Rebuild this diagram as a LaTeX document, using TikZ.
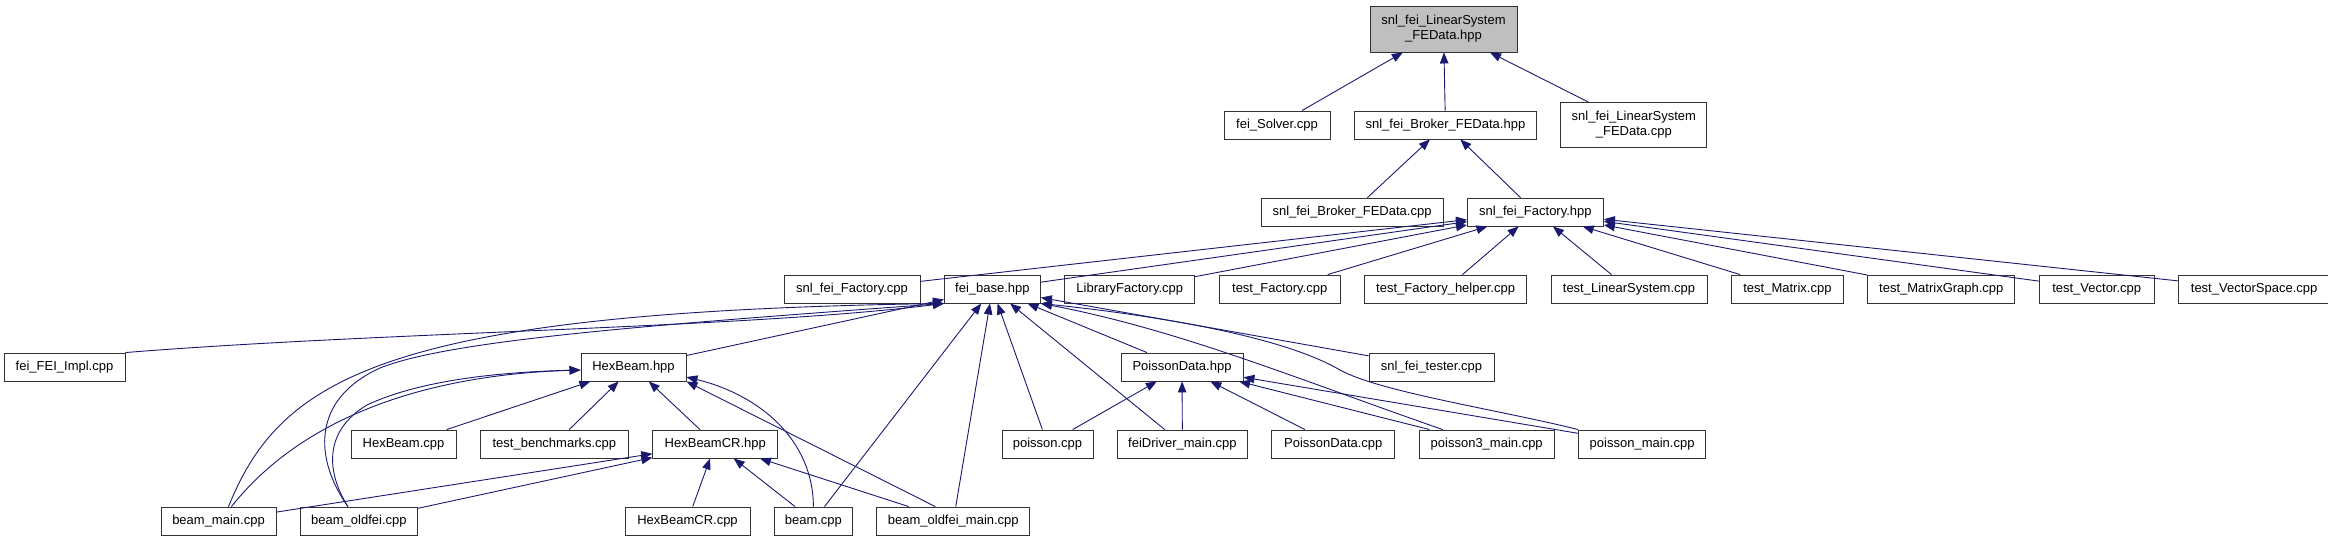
\documentclass[tikz,border=0pt]{standalone}
\usepackage{fontspec}
\setmainfont{Liberation Sans}
\usetikzlibrary{arrows.meta,positioning}
\definecolor{edgeblue}{HTML}{191970}
\definecolor{focusgray}{HTML}{BFBFBF}

\begin{document}
\begin{tikzpicture}[x=1pt,y=-1pt,node distance=23.5pt,
    filebox/.style={draw=black!80,fill=white,line width=0.9pt,minimum width=#1,
      minimum height=28pt,inner sep=0pt,align=center,
      font=\fontsize{13}{15}\selectfont},
    focusbox/.style={filebox=#1,fill=focusgray,minimum height=46pt},
    dep/.style={<-,color=edgeblue,line width=0.9pt},
    >={Triangle[length=11pt,width=8.5pt]}]
   \useasboundingbox (0,0) rectangle (2328,541);
   \node[focusbox=147pt] (lsh) at (1443.5,29) {snl\_fei\_LinearSystem\\\_FEData.hpp};
   \node[filebox=106pt] (solver) at (1277,125) {fei\_Solver.cpp};
   \node[filebox=182pt] (brokerh) [right=of solver] {snl\_fei\_Broker\_FEData.hpp};
   \node[filebox=146pt,minimum height=45pt] (lscpp) [right=of brokerh] {snl\_fei\_LinearSystem\\\_FEData.cpp};
   \node[filebox=182pt] (brokercpp) at (1352,212) {snl\_fei\_Broker\_FEData.cpp};
   \node[filebox=136pt] (factoryh) [right=of brokercpp] {snl\_fei\_Factory.hpp};
   \node[filebox=136pt] (factorycpp) at (852,289) {snl\_fei\_Factory.cpp};
   \node[filebox=96pt] (feibase) [right=of factorycpp] {fei\_base.hpp};
   \node[filebox=130pt] (libfactory) [right=of feibase] {LibraryFactory.cpp};
   \node[filebox=121pt] (testfactory) [right=of libfactory] {test\_Factory.cpp};
   \node[filebox=162pt] (testhelper) [right=of testfactory] {test\_Factory\_helper.cpp};
   \node[filebox=156pt] (testls) [right=of testhelper] {test\_LinearSystem.cpp};
   \node[filebox=112pt] (testmatrix) [right=of testls] {test\_Matrix.cpp};
   \node[filebox=147pt] (testgraph) [right=of testmatrix] {test\_MatrixGraph.cpp};
   \node[filebox=115pt] (testvector) [right=of testgraph] {test\_Vector.cpp};
   \node[filebox=151pt] (testspace) [right=of testvector] {test\_VectorSpace.cpp};
   \node[filebox=121pt] (feiimpl) at (64.5,367) {fei\_FEI\_Impl.cpp};
   \node[filebox=105pt] (hexbeamh) at (633.5,367) {HexBeam.hpp};
   \node[filebox=122pt] (poissonh) at (1182,367) {PoissonData.hpp};
   \node[filebox=125pt] (tester) at (1431.5,367) {snl\_fei\_tester.cpp};
   \node[filebox=105pt] (hexbeamcpp) at (403.5,444) {HexBeam.cpp};
   \node[filebox=148pt] (benchmarks) [right=of hexbeamcpp] {test\_benchmarks.cpp};
   \node[filebox=125pt] (hexbeamcrh) [right=of benchmarks] {HexBeamCR.hpp};
   \node[filebox=91pt] (poissoncpp) at (1047.5,444) {poisson.cpp};
   \node[filebox=130pt] (feidriver) [right=of poissoncpp] {feiDriver\_main.cpp};
   \node[filebox=123pt] (pdatacpp) [right=of feidriver] {PoissonData.cpp};
   \node[filebox=135pt] (poisson3) [right=of pdatacpp] {poisson3\_main.cpp};
   \node[filebox=127pt] (poissonmain) [right=of poisson3] {poisson\_main.cpp};
   \node[filebox=115pt] (beammain) at (218.5,521) {beam\_main.cpp};
   \node[filebox=117pt] (beamoldfei) [right=of beammain] {beam\_oldfei.cpp};
   \node[filebox=125pt] (hexbeamcrcpp) at (687.5,521) {HexBeamCR.cpp};
   \node[filebox=78pt] (beamcpp) [right=of hexbeamcrcpp] {beam.cpp};
   \node[filebox=153pt] (oldfeimain) [right=of beamcpp] {beam\_oldfei\_main.cpp};
    \path[dep]
    (lsh) edge (solver)
          edge (brokerh)
          edge (lscpp)
    (brokerh) edge (brokercpp)
              edge (factoryh)
    (factoryh) edge (factorycpp)
               edge (feibase)
               edge (libfactory)
               edge (testfactory)
               edge (testhelper)
               edge (testls)
               edge (testmatrix)
               edge (testgraph)
               edge (testvector)
               edge (testspace)
    (feibase) edge (hexbeamh)
              edge (poissonh)
              edge (tester)
              edge (poissoncpp)
              edge (feidriver)
              edge (beamcpp)
              edge (oldfeimain)
    (hexbeamh) edge (hexbeamcpp)
               edge (benchmarks)
               edge (hexbeamcrh)
    (hexbeamcrh) edge (beammain)
                 edge (beamoldfei)
                 edge (hexbeamcrcpp)
                 edge (beamcpp)
                 edge (oldfeimain)
    (poissonh) edge (poissoncpp)
               edge (feidriver)
               edge (pdatacpp)
               edge (poisson3)
               edge (poissonmain);
    \draw[dep] (feibase.south west) .. controls (750,328) and (380,332) .. (feiimpl.north east);
    \draw[dep] (feibase.south west) .. controls (380,312) and (280,380) .. ([xshift=10pt]beammain.north);
    \draw[dep] (feibase.south west) .. controls (650,325) and (450,340) .. (380,368)
      .. controls (310,400) and (315,460) .. ([xshift=-11pt]beamoldfei.north);
    \draw[dep] (feibase.south east) .. controls (1180,330) and (1300,380) .. ([xshift=-44pt]poisson3.north);
    \draw[dep] (feibase.south east) .. controls (1150,315) and (1280,335) .. (1340,370)
      .. controls (1380,392) and (1500,410) .. (poissonmain.north west);
    \draw[dep] ([yshift=-3pt]hexbeamh.west) .. controls (420,375) and (300,420) .. ([xshift=13pt]beammain.north);
    \draw[dep] ([yshift=-3pt]hexbeamh.west) .. controls (500,372) and (420,380) .. (367,405)
      .. controls (325,430) and (325,470) .. ([xshift=-11pt]beamoldfei.north);
    \draw[dep] ([yshift=-10pt]hexbeamh.east) .. controls (760,395) and (813,440) .. (beamcpp.north);
    \draw[dep] (hexbeamh.south east) -- ([xshift=-18pt]oldfeimain.north);
\end{tikzpicture}
\end{document}
